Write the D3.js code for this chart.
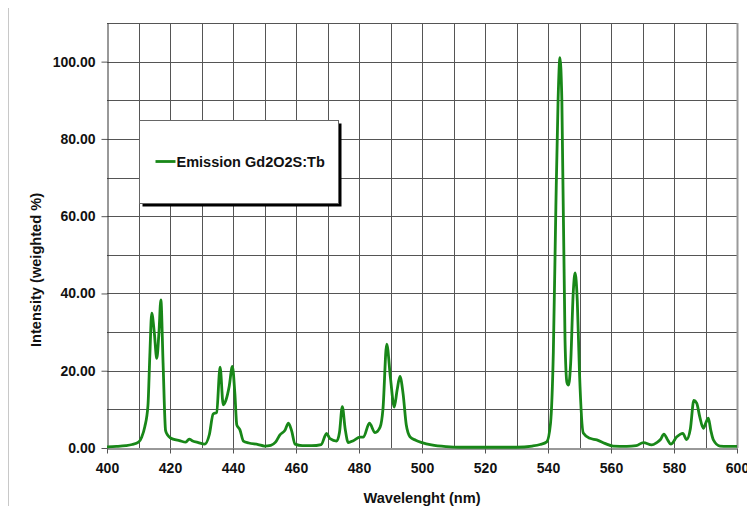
<!DOCTYPE html>
<html>
<head>
<meta charset="utf-8">
<script src="https://cdnjs.cloudflare.com/ajax/libs/d3/7.8.5/d3.min.js"></script>
<style>
  body { margin: 0; background: #fff; }
  text { font-family: "Liberation Sans", Arial, sans-serif; font-weight: bold; fill: #111; }
</style>
</head>
<body>
<div id="my_dataviz"></div>
<script>

var width = 747,
    height = 506

var margin = {top: 23, right: 10, bottom: 58, left: 107}

var seriesName = "Emission Gd2O2S:Tb"

var wavelength = [400, 403, 406, 408, 410, 411, 412, 413, 413.6, 414.2, 415, 415.8, 416.5, 417.1, 417.8, 418.6, 419.3, 420, 421, 423,
  425, 426.1, 427, 429, 431, 432.5, 433.7, 434.8, 435.9, 436.9, 437.8, 438.8, 439.8, 440.6, 441.2, 442.2, 443.3, 445, 448, 450,
  452, 453.5, 454.9, 456.5, 457.6, 458.6, 459.7, 462, 465, 468, 469.7, 470.8, 472.9, 473.8, 474.7, 475.6, 476.6, 478.2, 480.3, 481.4,
  483.3, 485.1, 486.7, 487.6, 488.8, 490, 491.2, 492.1, 493, 494, 495, 496.2, 498, 500, 503, 507.8, 512, 520, 530, 535,
  537.5, 539.6, 540.8, 541.7, 542.5, 543.2, 543.8, 544.4, 545.4, 546, 546.5, 547.2, 548, 548.6, 549.3, 550, 551.2, 553.3, 555.5, 558,
  560.7, 565, 568, 570.3, 572.9, 574.5, 575.7, 576.8, 577.9, 579, 580.9, 582.8, 584, 585.2, 586.3, 587.2, 588.2, 589.3, 590.1, 590.9,
  591.7, 592.5, 594.6, 597, 600]

var intensity = [0.3, 0.4, 0.6, 0.9, 1.5, 2.8, 5.5, 11, 24, 34.9, 30, 23.2, 30, 38.3, 22, 4.5, 3.3, 2.7, 2.3, 1.9,
  1.5, 2.3, 1.9, 1.4, 1.0, 3.5, 8.8, 9.2, 20.9, 11.2, 12.5, 16, 21.1, 14, 6.0, 4.7, 1.8, 1.3, 0.9, 0.5,
  0.7, 1.5, 3.4, 4.6, 6.4, 4.5, 1.0, 0.6, 0.6, 0.9, 3.8, 2.4, 1.8, 4, 10.7, 5, 1.4, 1.9, 2.8, 2.8,
  6.4, 4.0, 5.4, 10, 26.9, 18, 10.6, 15, 18.5, 14, 6, 2.9, 2, 1.4, 0.8, 0.35, 0.2, 0.2, 0.2, 0.5,
  0.9, 1.6, 6.4, 25, 62.5, 90, 101, 90, 28, 17, 16.3, 22, 40, 45.3, 38, 19.4, 3.9, 2.5, 2.1, 1.2,
  0.5, 0.4, 0.6, 1.4, 0.8, 1.4, 2.2, 3.6, 2.2, 1.0, 2.9, 3.8, 2.2, 5, 12.3, 11.6, 8, 5.1, 6.5, 7.7,
  4.5, 2.1, 0.5, 0.4, 0.4]

var xTicks = [400, 420, 440, 460, 480, 500, 520, 540, 560, 580, 600]
var yTicks = [0, 20, 40, 60, 80, 100]

var data = wavelength.map(function(w, i) { return {x: w, y: intensity[i]} })

var svg = d3.select("#my_dataviz")
  .append("svg")
    .attr("width", width)
    .attr("height", height)

// faint outer frame
svg.append("line")
    .attr("x1", 8.5).attr("x2", 8.5)
    .attr("y1", 8).attr("y2", height)
    .attr("stroke", "#c8c8c8")
    .attr("stroke-width", 1)

var innerW = width - margin.left - margin.right,
    innerH = height - margin.top - margin.bottom

var g = svg.append("g")
    .attr("transform", "translate(" + margin.left + "," + margin.top + ")")

var x = d3.scaleLinear()
  .domain([400, 600])
  .range([0, 630])

var y = d3.scaleLinear()
  .domain([0, 110])
  .range([425, 0])

// grid
g.append("g")
  .selectAll("line")
  .data(d3.range(410, 600, 10))
  .enter()
  .append("line")
    .attr("x1", function(d) { return Math.round(x(d)) + 0.5 })
    .attr("x2", function(d) { return Math.round(x(d)) + 0.5 })
    .attr("y1", 0)
    .attr("y2", y(0))
    .attr("stroke", "#555")
    .attr("stroke-width", 1)

g.append("g")
  .selectAll("line")
  .data(d3.range(10, 111, 10))
  .enter()
  .append("line")
    .attr("x1", 0)
    .attr("x2", x(600))
    .attr("y1", function(d) { return Math.round(y(d)) + 0.5 })
    .attr("y2", function(d) { return Math.round(y(d)) + 0.5 })
    .attr("stroke", "#555")
    .attr("stroke-width", 1)

// right border
g.append("line")
    .attr("x1", x(600) + 0.5).attr("x2", x(600) + 0.5)
    .attr("y1", 0).attr("y2", y(0))
    .attr("stroke", "#999")
    .attr("stroke-width", 2)

// axes
var xAxis = g.append("g")
    .attr("transform", "translate(0," + (Math.round(y(0)) + 0.5) + ")")
    .call(d3.axisBottom(x).tickValues(xTicks).tickSize(5).tickPadding(10).tickSizeOuter(0))

xAxis.selectAll("text").style("font-size", "14px").attr("fill", "#111")
xAxis.select(".domain").attr("stroke", "#333")
xAxis.selectAll(".tick line").attr("stroke", "#555")

var yAxis = g.append("g")
    .attr("transform", "translate(0.5,0)")
    .call(d3.axisLeft(y).tickValues(yTicks).tickSize(6).tickPadding(6).tickSizeOuter(0)
      .tickFormat(d3.format(".2f")))

yAxis.selectAll("text").style("font-size", "14px").attr("fill", "#111")
yAxis.select(".domain").attr("stroke", "#333")
yAxis.selectAll(".tick line").attr("stroke", "#555")

// spectrum
var line = d3.line()
  .x(function(d) { return x(d.x) })
  .y(function(d) { return y(d.y) })
  .curve(d3.curveMonotoneX)

g.append("path")
  .datum(data)
  .attr("d", line)
  .attr("fill", "none")
  .attr("stroke", "#188718")
  .attr("stroke-width", 2.8)
  .attr("stroke-linejoin", "round")

// axis titles
svg.append("text")
    .attr("x", margin.left + x(500))
    .attr("y", 503)
    .attr("text-anchor", "middle")
    .style("font-size", "14.6px")
    .text("Wavelenght (nm)")

svg.append("text")
    .attr("transform", "translate(41,270) rotate(-90)")
    .attr("text-anchor", "middle")
    .style("font-size", "14.6px")
    .text("Intensity (weighted %)")

// legend
var lg = svg.append("g")
    .attr("transform", "translate(139.5,120.5)")

lg.append("rect")
    .attr("x", 3).attr("y", 3)
    .attr("width", 199).attr("height", 83)
    .attr("fill", "#000")

lg.append("rect")
    .attr("width", 199).attr("height", 83)
    .attr("fill", "#fff")
    .attr("stroke", "#666")
    .attr("stroke-width", 1)

lg.append("line")
    .attr("x1", 16).attr("x2", 36)
    .attr("y1", 41).attr("y2", 41)
    .attr("stroke", "#188718")
    .attr("stroke-width", 2.8)

lg.append("text")
    .attr("x", 37)
    .attr("y", 46.5)
    .style("font-size", "14.5px")
    .text(seriesName)

</script>
</body>
</html>
